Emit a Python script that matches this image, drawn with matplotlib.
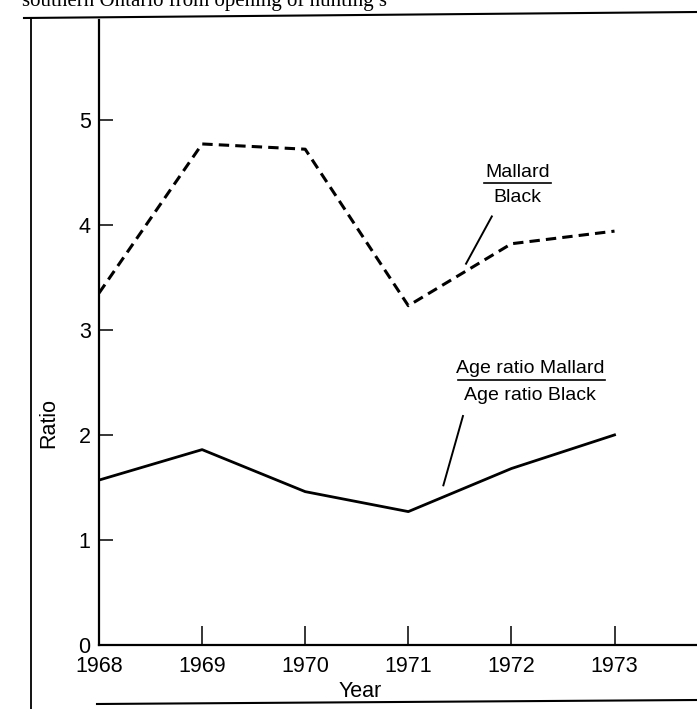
import matplotlib
matplotlib.use("Agg")
import matplotlib.pyplot as plt
from matplotlib.lines import Line2D

# ---- data ----
years = [1968, 1969, 1970, 1971, 1972, 1973]
mallard_black = [3.35, 4.77, 4.72, 3.23, 3.82, 3.94]
age_ratio = [1.57, 1.86, 1.46, 1.27, 1.68, 2.00]
yticks = [0, 1, 2, 3, 4, 5]
xtick_labels = ["1968", "1969", "1970", "1971", "1972", "1973"]
caption = "southern Ontario from opening of hunting s"

plt.rcParams["font.family"] = ["Liberation Sans", "DejaVu Sans"]

W, H = 697, 709
fig = plt.figure(figsize=(W / 100, H / 100), dpi=100)
ax = fig.add_axes([99 / W, (H - 645) / H, 598 / W, 625 / H])

ax.plot(years, mallard_black, color="black", lw=2.2, linestyle=(0, (3.4, 2.0)),
        solid_joinstyle="miter")
ax.plot(years, age_ratio, color="black", lw=2.0)

ax.set_xlim(1968, 1973.8)
ax.set_ylim(0, 5.95)
ax.set_xticks(years)
ax.set_xticklabels(xtick_labels)
ax.set_yticks(yticks)

for s in ["top", "right"]:
    ax.spines[s].set_visible(False)
for s in ["left", "bottom"]:
    ax.spines[s].set_linewidth(1.6)

ax.tick_params(axis="x", direction="in", length=14, width=1.1, pad=8, labelsize=15.5)
ax.tick_params(axis="y", direction="in", length=10, width=1.1, pad=6, labelsize=15.5)

ax.set_ylabel("Ratio", fontsize=15.5)
ax.yaxis.set_label_coords(-0.067, 0.355)
ax.set_xlabel("Year", fontsize=15.5)
ax.xaxis.set_label_coords(0.437, -0.058)

# annotations
ax.text(1972.06, 4.50, "Mallard", ha="center", va="center", fontsize=14)
ax.plot([1971.73, 1972.38], [4.40, 4.40], color="black", lw=1.2)
ax.text(1972.06, 4.26, "Black", ha="center", va="center", fontsize=14)
ax.plot([1971.81, 1971.56], [4.08, 3.63], color="black", lw=1.4)

ax.text(1972.18, 2.63, "Age ratio Mallard", ha="center", va="center", fontsize=14)
ax.plot([1971.48, 1972.91], [2.52, 2.52], color="black", lw=1.2)
ax.text(1972.18, 2.38, "Age ratio Black", ha="center", va="center", fontsize=14)
ax.plot([1971.53, 1971.34], [2.18, 1.52], color="black", lw=1.4)

# outer frame of the scanned page
fig.add_artist(Line2D([24 / W, 1.0], [1 - 18 / H, 1 - 12 / H], color="black", lw=1.5))
fig.add_artist(Line2D([31 / W, 31 / W], [1 - 18 / H, 0.0], color="black", lw=1.3))
fig.add_artist(Line2D([97 / W, 1.0], [1 - 704 / H, 1 - 700 / H], color="black", lw=1.5))

fig.text(22 / W, 1 - 6 / H, caption, family="Liberation Serif", fontsize=15,
         ha="left", va="baseline")

fig.savefig("out.png", dpi=100)
